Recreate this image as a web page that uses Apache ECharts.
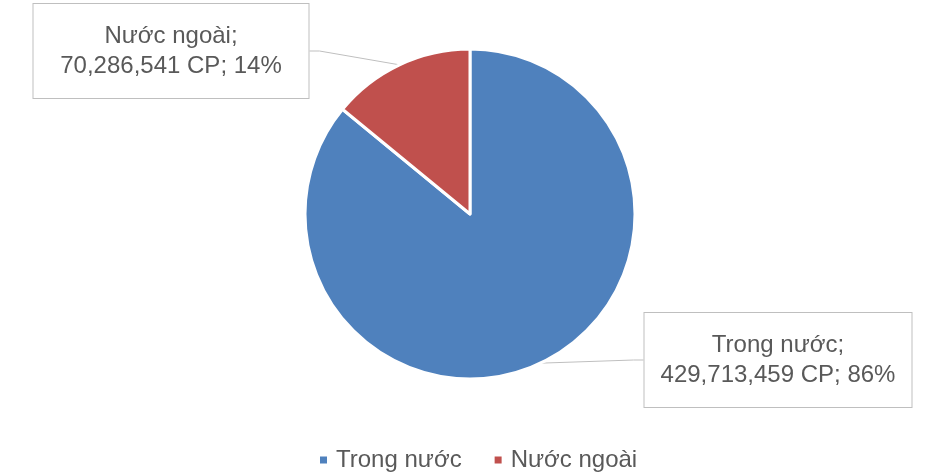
<!DOCTYPE html>
<html>
<head>
<meta charset="utf-8">
<script src="https://cdn.jsdelivr.net/npm/echarts@6/dist/echarts.min.js"></script>
<style>
  html, body { margin: 0; padding: 0; background: #fff; }
  #chart { width: 929px; height: 473px; }
</style>
</head>
<body>
<div id="chart"></div>
<script>
// dữ liệu cổ phần
const categories = ["Trong nước", "Nước ngoài"];
const shares = [429713459, 70286541];
const percents = [86, 14];
const colors = ["#4F81BD", "#C0504D"];

const fmt = (n) => n.toString().replace(/\B(?=(\d{3})+(?!\d))/g, ",");

const chart = echarts.init(document.getElementById("chart"));

const options = {
  animation: false,
  textStyle: { fontFamily: "Liberation Sans, Arial, sans-serif" },
  legend: {
    top: 443,
    left: 313,
    icon: "rect",
    itemWidth: 9,
    itemHeight: 9,
    itemGap: 31,
    data: categories,
    textStyle: { color: "#595959", fontSize: 24, padding: [0, 0, 0, 3] },
  },
  series: [
    {
      type: "pie",
      center: [470, 214],
      radius: 165,
      startAngle: 90,
      clockwise: true,
      data: categories.map((name, i) => ({
        name,
        value: shares[i],
        itemStyle: { color: colors[i] },
        label: { width: i === 0 ? 243 : 251 },
      })),
      itemStyle: { borderColor: "#fff", borderWidth: 3 },
      label: {
        show: true,
        position: "outside",
        formatter: (p) => p.name + ";\n" + fmt(shares[p.dataIndex]) + " CP; " + percents[p.dataIndex] + "%",
        color: "#595959",
        fontSize: 24,
        lineHeight: 30,
        align: "center",
        backgroundColor: "#fff",
        borderColor: "#BFBFBF",
        borderWidth: 1,
        padding: [25, 12, 9, 12],
      },
      labelLine: {
        show: true,
        length: 10,
        length2: 10,
        lineStyle: { color: "#BFBFBF", width: 1 },
      },
      labelLayout: (params) => {
        if (params.dataIndex === 0) {
          return { x: 778, y: 360, align: "center", verticalAlign: "middle" };
        }
        return { x: 171, y: 51, align: "center", verticalAlign: "middle" };
      },
    },
  ],
};

chart.setOption(options);
window.addEventListener("resize", () => chart.resize());
</script>
</body>
</html>
